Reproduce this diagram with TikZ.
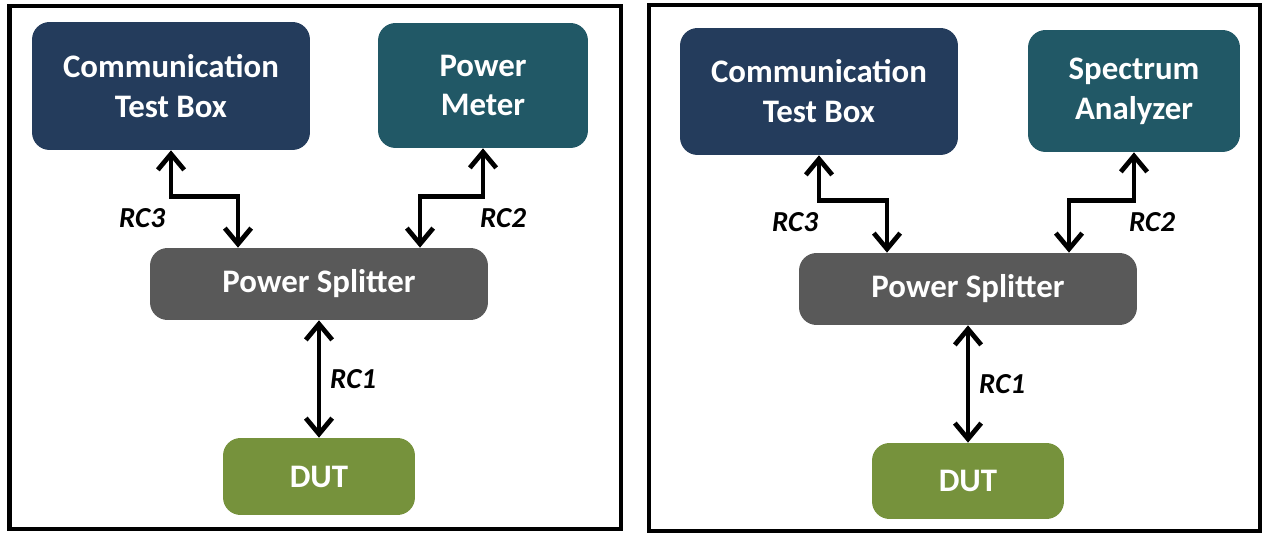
\documentclass[tikz,border=0pt]{standalone}
\usepackage{fontspec}
\setmainfont{Carlito}
\usetikzlibrary{arrows.meta,positioning,calc}
\definecolor{navybox}{HTML}{243C5C}
\definecolor{tealbox}{HTML}{215866}
\definecolor{greybox}{HTML}{595959}
\definecolor{olivebox}{HTML}{76923C}
\tikzset{
  unitbox/.style={rounded corners=10pt, inner sep=0pt, align=center, text=white,
    font=\bfseries\fontsize{18.7}{22.7}\selectfont},
  lbl/.style={inner sep=0pt, font=\bfseries\itshape\fontsize{16.5}{18}\selectfont},
  dlink/.style={line width=2.7pt, {Straight Barb[length=9pt,width=15pt]}-{Straight Barb[length=9pt,width=15pt]}},
  panel/.style={line width=2.4pt}
}
\begin{document}
\begin{tikzpicture}[x=0.02cm,y=-0.02cm]
\useasboundingbox (0,0) rectangle (1262,533);
%left panel: power meter set-up
\draw[panel] (9.5,6) rectangle (621,529);
\node[unitbox, fill=navybox, minimum width=5.56cm, minimum height=2.56cm] (ctbL) at (171,86) {Communication\\Test Box};
\node[unitbox, fill=tealbox, minimum width=4.2cm, minimum height=2.5cm] (pmL) at (483,85.5) {Power\\Meter};
\node[unitbox, fill=greybox, minimum width=6.76cm, minimum height=1.44cm] (psL) at (319,284) {Power Splitter};
\node[unitbox, fill=olivebox, minimum width=3.84cm, minimum height=1.54cm] (dutL) at (319,476.5) {DUT};
%cables
\draw[dlink] (ctbL.south) -- ++(0,46) -| ($(psL.north)+(-81,0)$);
\draw[dlink] (pmL.south) -- ++(0,48) -| ($(psL.north)+(101,0)$);
\draw[dlink] (psL.south) -- (dutL.north) node[lbl, midway, right=5pt] (rc1L) {RC1};
\node[lbl] (rc3L) at (142,218) {RC3};
\node[lbl] (rc2L) at (503,218) {RC2};
%right panel: spectrum analyzer set-up
\draw[panel] (649,5) rectangle (1260,531);
\node[unitbox, fill=navybox, minimum width=5.56cm, minimum height=2.54cm] (ctbR) at (819,91.5) {Communication\\Test Box};
\node[unitbox, fill=tealbox, minimum width=4.24cm, minimum height=2.44cm] (saR) at (1134,91) {Spectrum\\Analyzer};
\node[unitbox, fill=greybox, minimum width=6.76cm, minimum height=1.44cm] (psR) at (968,289) {Power Splitter};
\node[unitbox, fill=olivebox, minimum width=3.84cm, minimum height=1.52cm] (dutR) at (968,481) {DUT};
%cables
\draw[dlink] (ctbR.south) -- ++(0,45) -| ($(psR.north)+(-81,0)$);
\draw[dlink] (saR.south) -- ++(0,48) -| ($(psR.north)+(101,0)$);
\draw[dlink] (psR.south) -- (dutR.north) node[lbl, midway, right=5pt] (rc1R) {RC1};
\node[lbl] (rc3R) at (795,222) {RC3};
\node[lbl] (rc2R) at (1152,222) {RC2};
\end{tikzpicture}
\end{document}
